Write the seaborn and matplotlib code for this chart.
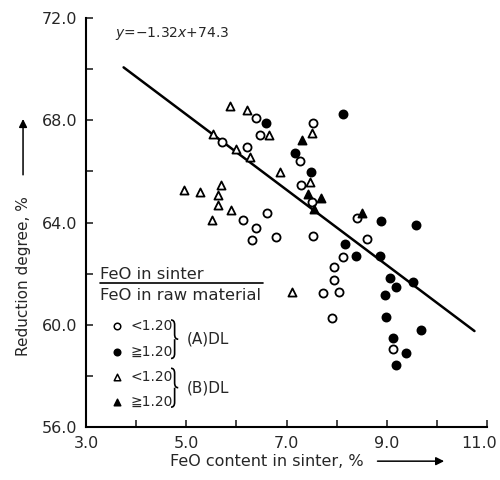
import numpy as np
import pandas as pd
import matplotlib
matplotlib.use("Agg")
import matplotlib.pyplot as plt
import matplotlib.transforms as mtransforms
from matplotlib.path import Path
from matplotlib.patches import PathPatch
import seaborn as sns

# FeO content in sinter (%) vs reduction degree (%)
# (A)DL, FeO ratio < 1.20  (open circles)
a_lt_x = [6.39, 7.53, 6.48, 5.71, 6.21, 7.26, 7.28, 7.50, 6.62, 6.13, 6.39, 6.32,
          6.79, 7.52, 8.41, 8.61, 8.13, 7.94, 7.95, 8.04, 7.73, 9.13, 7.90]
a_lt_y = [68.08, 67.88, 67.41, 67.15, 66.95, 66.42, 65.46, 64.80, 64.38, 64.09, 63.79, 63.31,
          63.42, 63.49, 64.17, 63.36, 62.65, 62.25, 61.75, 61.27, 61.24, 59.04, 60.26]
# (A)DL, FeO ratio >= 1.20  (filled circles)
a_ge_x = [8.12, 6.59, 7.16, 7.49, 8.16, 8.39, 8.88, 9.58, 8.87, 9.07, 9.18, 9.53,
          8.97, 8.98, 9.69, 9.13, 9.39, 9.18]
a_ge_y = [68.25, 67.88, 66.73, 65.97, 63.18, 62.71, 64.05, 63.92, 62.68, 61.85, 61.48, 61.66,
          61.15, 60.31, 59.79, 59.50, 58.92, 58.42]
# (B)DL, FeO ratio < 1.20  (open triangles)
b_lt_x = [5.87, 6.21, 5.53, 6.00, 6.27, 6.65, 7.50, 6.88, 7.46, 4.96, 5.27, 5.70,
          5.63, 5.63, 5.89, 5.52, 7.10]
b_lt_y = [68.56, 68.40, 67.48, 66.86, 66.58, 67.41, 67.52, 65.97, 65.58, 65.29, 65.19, 65.47,
          65.06, 64.69, 64.51, 64.12, 61.27]
# (B)DL, FeO ratio >= 1.20  (filled triangles)
b_ge_x = [7.31, 7.43, 7.69, 7.55, 8.50]
b_ge_y = [67.22, 65.12, 64.95, 64.53, 64.38]

# regression line as drawn
fit_x = [3.75, 10.75]
fit_y = [70.07, 59.76]

x_ticks = [3.0, 5.0, 7.0, 9.0, 11.0]
y_ticks = [56.0, 60.0, 64.0, 68.0, 72.0]

sns.set_style("white")
plt.rcParams["font.family"] = ["DejaVu Sans"]
plt.rcParams["mathtext.fontset"] = "dejavusans"

df = pd.concat([
    pd.DataFrame({"x": a_lt_x, "y": a_lt_y, "grp": "A<"}),
    pd.DataFrame({"x": a_ge_x, "y": a_ge_y, "grp": "A>="}),
    pd.DataFrame({"x": b_lt_x, "y": b_lt_y, "grp": "B<"}),
    pd.DataFrame({"x": b_ge_x, "y": b_ge_y, "grp": "B>="}),
], ignore_index=True)

styles = {
    "A<": dict(marker="o", facecolor="white"),
    "A>=": dict(marker="o", facecolor="black"),
    "B<": dict(marker="^", facecolor="white"),
    "B>=": dict(marker="^", facecolor="black"),
}


def brace(ax, x0, y_bot, y_top, w):
    # right-facing curly brace in axes fraction coords
    ym = (y_bot + y_top) / 2
    c = 0.012
    verts = [(x0, y_top), (x0 + w / 2, y_top), (x0 + w / 2, y_top - c),
             (x0 + w / 2, ym + c),
             (x0 + w / 2, ym), (x0 + w, ym),
             (x0 + w / 2, ym), (x0 + w / 2, ym - c),
             (x0 + w / 2, y_bot + c),
             (x0 + w / 2, y_bot), (x0, y_bot)]
    codes = [Path.MOVETO, Path.CURVE3, Path.CURVE3, Path.LINETO,
             Path.CURVE3, Path.CURVE3, Path.MOVETO, Path.CURVE3, Path.LINETO,
             Path.CURVE3, Path.CURVE3]
    ax.add_patch(PathPatch(Path(verts, codes), transform=ax.transAxes, fill=False,
                           lw=1.2, edgecolor="black", clip_on=False))


fig = plt.figure(figsize=(5, 4.8), dpi=100)
ax = fig.add_axes([0.172, 0.110, 0.802, 0.8525])

sns.lineplot(x=fit_x, y=fit_y, color="black", linewidth=1.8, ax=ax)

for g, st in styles.items():
    sub = df[df["grp"] == g]
    sns.scatterplot(data=sub, x="x", y="y", marker=st["marker"], color=st["facecolor"],
                    edgecolor="black", linewidth=1.3, s=34, ax=ax, zorder=3)

ax.set_xlim(3.0, 11.0)
ax.set_ylim(56.0, 72.0)
ax.set_xticks(x_ticks)
ax.set_yticks(y_ticks)
ax.set_xticklabels([f"{v:.1f}" for v in x_ticks])
ax.set_yticklabels([f"{v:.1f}" for v in y_ticks])
ax.set_xticks([4, 6, 8, 10], minor=True)
ax.set_yticks([58, 62, 66, 70], minor=True)
ax.tick_params(which="both", direction="in", length=5, width=1.2, labelsize=11.5, pad=6,
               left=True, bottom=True)
ax.set_xlabel("")
ax.set_ylabel("")
sns.despine(ax=ax, top=True, right=True)
for s in ("left", "bottom"):
    ax.spines[s].set_linewidth(1.5)
    ax.spines[s].set_color("black")

# pull the last x tick label in a little, as in the original
last = ax.get_xticklabels()[-1]
last.set_transform(last.get_transform() + mtransforms.ScaledTranslation(-6 / 72, 0, fig.dpi_scale_trans))

# axis titles with arrows
ax.text(0.21, -0.083, "FeO content in sinter, %", transform=ax.transAxes,
        ha="left", va="center", fontsize=11.5)
ax.annotate("", xy=(0.90, -0.083), xytext=(0.72, -0.083), xycoords="axes fraction",
            arrowprops=dict(arrowstyle="-|>", color="black", lw=1.1, mutation_scale=12))
ax.text(-0.157, 0.37, "Reduction degree, %", transform=ax.transAxes, rotation=90,
        ha="center", va="center", fontsize=11)
ax.annotate("", xy=(-0.157, 0.76), xytext=(-0.157, 0.61), xycoords="axes fraction",
            arrowprops=dict(arrowstyle="-|>", color="black", lw=1.1, mutation_scale=12))

# regression equation
ax.text(0.072, 0.963, r"$y$=−1.32$x$+74.3", transform=ax.transAxes,
        ha="left", va="center", fontsize=10)

# legend drawn as in the original
ax.text(0.035, 0.374, "FeO in sinter", transform=ax.transAxes, ha="left", va="center", fontsize=11.8)
ax.plot([0.035, 0.442], [0.353, 0.353], transform=ax.transAxes, color="black", lw=1.2)
ax.text(0.035, 0.323, "FeO in raw material", transform=ax.transAxes, ha="left", va="center", fontsize=11.8)

leg_rows = [("o", "white", "<1.20", 0.247), ("o", "black", "≧1.20", 0.184),
            ("^", "white", "<1.20", 0.123), ("^", "black", "≧1.20", 0.062)]
for mk, fc, lab, fy in leg_rows:
    ax.scatter([0.078], [fy], marker=mk, s=22, facecolor=fc, edgecolor="black",
               linewidth=1.1, transform=ax.transAxes, clip_on=False, zorder=3)
    ax.text(0.112, fy, lab, transform=ax.transAxes, ha="left", va="center", fontsize=10)
brace(ax, 0.212, 0.168, 0.262, 0.018)
brace(ax, 0.212, 0.049, 0.144, 0.018)
ax.text(0.252, 0.215, "(A)DL", transform=ax.transAxes, ha="left", va="center", fontsize=11)
ax.text(0.252, 0.097, "(B)DL", transform=ax.transAxes, ha="left", va="center", fontsize=11)

plt.savefig("out.png", dpi=100)
plt.close()
